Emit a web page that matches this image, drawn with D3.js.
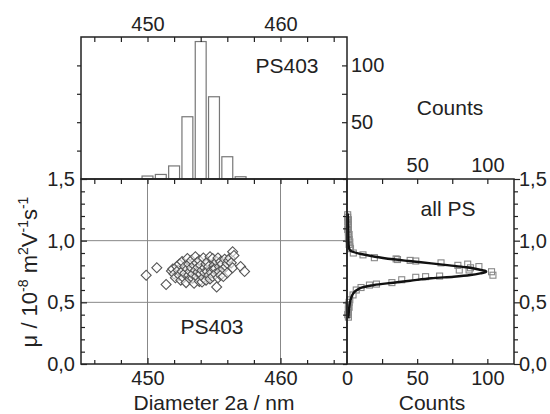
<!DOCTYPE html>
<html><head><meta charset="utf-8">
<script src="https://cdn.jsdelivr.net/npm/d3@7"></script>
<style>
body{margin:0;background:#fff;}
text{font-family:"Liberation Sans",Arial,sans-serif;fill:#222;}
</style></head>
<body><svg id="c" width="550" height="414"></svg>
<script>
// ---- data ----
const histDiam   = [450, 451, 452, 453, 454, 455, 456, 457];
const histCounts = [2.6, 4, 11.5, 54.8, 121, 72.4, 19.6, 2];

const scatterDiam = [449.9,450.7,451.4,451.8,451.9,452.0,452.1,452.2,452.3,452.4,452.4,452.5,452.6,452.6,452.7,452.8,452.8,452.9,453.0,453.0,453.1,453.1,453.2,453.2,453.3,453.3,453.4,453.4,453.5,453.5,453.6,453.6,453.7,453.7,453.8,453.8,453.9,453.9,454.0,454.0,454.1,454.1,454.2,454.2,454.3,454.3,454.4,454.4,454.5,454.5,454.6,454.6,454.7,454.7,454.8,454.8,454.9,454.9,455.0,455.0,455.1,455.1,455.2,455.2,455.3,455.3,455.4,455.4,455.5,455.5,455.6,455.7,455.7,455.8,455.9,456.0,456.0,456.1,456.2,456.3,456.4,456.4,456.5,457.0,457.3];
const scatterMu   = [0.72,0.78,0.645,0.755,0.77,0.73,0.70,0.79,0.76,0.72,0.81,0.68,0.83,0.75,0.70,0.735,0.79,0.66,0.855,0.77,0.72,0.81,0.69,0.75,0.78,0.84,0.695,0.73,0.80,0.655,0.76,0.87,0.71,0.82,0.745,0.785,0.67,0.84,0.73,0.80,0.76,0.665,0.86,0.70,0.78,0.74,0.81,0.68,0.75,0.83,0.72,0.79,0.87,0.69,0.76,0.74,0.855,0.71,0.80,0.77,0.775,0.73,0.83,0.625,0.70,0.86,0.79,0.75,0.83,0.72,0.81,0.71,0.77,0.85,0.79,0.815,0.74,0.84,0.86,0.82,0.91,0.78,0.88,0.79,0.75];

const sqMu    = [1.21,1.19,1.17,1.15,1.13,1.11,1.09,1.07,1.05,1.03,1.01,0.99,0.97,0.95,0.935,0.90,0.885,0.862,0.852,0.847,0.84,0.835,0.82,0.81,0.80,0.79,0.78,0.762,0.762,0.748,0.72,0.713,0.708,0.703,0.683,0.66,0.648,0.64,0.62,0.60,0.56,0.52,0.50,0.48,0.46,0.44,0.42,0.40,0.38];
const sqCount = [0.5,0.5,1,0.5,1,1,0.5,1,1.5,1,1.5,2,1.5,2,2.5,4.5,11.4,19.5,35,36,45,49,67,86,79,94,88,80,87,103,104,66,56,49,39,32,21,16,10,6.6,4.3,2,1.5,1,1.5,1,1,0.5,1];

const fitMu    = [1.22,1.10,1.00,0.95,0.925,0.91,0.892,0.87,0.849,0.835,0.816,0.80,0.784,0.766,0.752,0.745,0.735,0.722,0.708,0.695,0.675,0.659,0.64,0.613,0.573,0.52,0.45,0.37];
const fitCount = [0.6,0.8,1.0,1.3,2.0,4.0,10,20,33,44,60,73,85,94,99,99,95,88,76,60,45,33,19,9,4.5,2.5,1.5,1.0];

const diamMajor = [450, 460];
const diamMinor = [446,448,452,454,456,458,462,464];
const muMajor = [0, 0.5, 1.0, 1.5];
const muMinor = [0.1,0.2,0.3,0.4,0.6,0.7,0.8,0.9,1.1,1.2,1.3,1.4];
const countTicks = [25, 50, 75, 100];
const countLabels = [50, 100];
const rightCountTicks = [25, 50, 75, 100];
const rightTopLabels = [50, 100];
const rightBottomLabels = [0, 50, 100];

// ---- scales ----
const svg = d3.select("#c");
const x  = d3.scaleLinear().domain([445,465]).range([81,347]);
const y  = d3.scaleLinear().domain([0,1.5]).range([364,179]);
const yc = d3.scaleLinear().domain([0,125]).range([179,37]);
const xc = d3.scaleLinear().domain([0,119]).range([347,514]);
const comma = d => d3.format(".1f")(d).replace(".", ",");
const FS = 20;   // tick labels
const LS = 21;   // in-plot labels & titles

function drawAxis(gen, tx, ty) {
  const g = svg.append("g").attr("transform", `translate(${tx},${ty})`).call(gen);
  g.select(".domain").remove();
  g.selectAll("line").attr("stroke", "#222").attr("stroke-width", 1.2);
  g.selectAll("text").attr("font-size", FS).attr("fill", "#222")
    .style("font-family", '"Liberation Sans", Arial, sans-serif');
  return g;
}
const none = () => "";

// ---- grid in main panel ----
const grid = svg.append("g").attr("stroke", "#888").attr("stroke-width", 1);
grid.selectAll(".gx").data(diamMajor).join("line")
  .attr("x1", d => x(d)).attr("x2", d => x(d)).attr("y1", y(0)).attr("y2", y(1.5));
grid.selectAll(".gy").data([0.5, 1.0]).join("line")
  .attr("x1", x(445)).attr("x2", x(465)).attr("y1", d => y(d)).attr("y2", d => y(d));

// ---- top histogram bars ----
const bw = 0.82;
svg.append("g").selectAll("rect").data(histDiam.map((d,i)=>({d, c: histCounts[i]}))).join("rect")
  .attr("x", p => x(p.d - bw/2)).attr("width", p => x(p.d + bw/2) - x(p.d - bw/2))
  .attr("y", p => yc(p.c)).attr("height", p => yc(0) - yc(p.c))
  .attr("fill", "#fff").attr("stroke", "#777").attr("stroke-width", 1.2);

// ---- scatter diamonds ----
svg.append("g").selectAll("path").data(scatterDiam.map((d,i)=>[d, scatterMu[i]])).join("path")
  .attr("d", d3.symbol().type(d3.symbolSquare).size(50))
  .attr("transform", p => `translate(${x(p[0])},${y(p[1])}) rotate(45)`)
  .attr("fill", "#fff").attr("fill-opacity", 0.6).attr("stroke", "#555").attr("stroke-width", 1.1);

// ---- right panel squares and fit ----
svg.append("g").selectAll("rect").data(sqMu.map((m,i)=>[sqCount[i], m])).join("rect")
  .attr("x", p => xc(p[0]) - 3).attr("y", p => y(p[1]) - 3)
  .attr("width", 6).attr("height", 6)
  .attr("fill", "none").attr("stroke", "#888").attr("stroke-width", 1.1);

svg.append("path").datum(fitMu.map((m,i)=>[fitCount[i], m]))
  .attr("d", d3.line().x(p => xc(p[0])).y(p => y(p[1])).curve(d3.curveCatmullRom))
  .attr("fill", "none").attr("stroke", "#111").attr("stroke-width", 2.4);

// ---- frames ----
const frame = svg.append("g").attr("fill", "none").attr("stroke", "#222").attr("stroke-width", 1.5);
frame.append("rect").attr("x", x(445)).attr("y", y(1.5)).attr("width", x(465)-x(445)).attr("height", y(0)-y(1.5));
frame.append("rect").attr("x", x(445)).attr("y", yc(125)).attr("width", x(465)-x(445)).attr("height", yc(0)-yc(125));
frame.append("rect").attr("x", xc(0)).attr("y", y(1.5)).attr("width", xc(119)-xc(0)).attr("height", y(0)-y(1.5));

// ---- main panel axes ----
drawAxis(d3.axisBottom(x).tickValues(diamMajor).tickSize(-6).tickPadding(7).tickFormat(d3.format("d")), 0, y(0));
drawAxis(d3.axisBottom(x).tickValues(diamMinor).tickSize(-4).tickFormat(none), 0, y(0));
drawAxis(d3.axisTop(x).tickValues(diamMajor.concat(diamMinor)).tickSize(-5).tickFormat(none), 0, y(1.5));
drawAxis(d3.axisLeft(y).tickValues(muMajor).tickSize(-6).tickPadding(6).tickFormat(comma), x(445), 0);
drawAxis(d3.axisLeft(y).tickValues(muMinor).tickSize(-4).tickFormat(none), x(445), 0);
drawAxis(d3.axisRight(y).tickValues(muMajor.concat(muMinor)).tickSize(-4).tickFormat(none), x(465), 0);

// ---- top histogram axes ----
drawAxis(d3.axisTop(x).tickValues(diamMajor).tickSize(-5).tickPadding(6).tickFormat(d3.format("d")), 0, yc(125));
drawAxis(d3.axisTop(x).tickValues(diamMinor).tickSize(-5).tickFormat(none), 0, yc(125));
drawAxis(d3.axisRight(yc).tickValues(countTicks).tickSize(-4).tickFormat(none), x(445), 0);
drawAxis(d3.axisRight(yc).tickValues(countTicks).tickSize(-5).tickFormat(none), x(465), 0);
drawAxis(d3.axisRight(yc).tickValues(countLabels).tickSize(0).tickPadding(4).tickFormat(d3.format("d")), x(465), 0);

// ---- right panel axes ----
drawAxis(d3.axisTop(xc).tickValues(rightCountTicks).tickSize(-5).tickFormat(none), 0, y(1.5));
drawAxis(d3.axisTop(xc).tickValues(rightTopLabels).tickSize(0).tickPadding(7).tickFormat(d3.format("d")), 0, y(1.5));
drawAxis(d3.axisBottom(xc).tickValues(rightCountTicks).tickSize(-5).tickFormat(none), 0, y(0));
drawAxis(d3.axisBottom(xc).tickValues(rightBottomLabels).tickSize(0).tickPadding(7).tickFormat(d3.format("d")), 0, y(0));
drawAxis(d3.axisLeft(y).tickValues(muMajor).tickSize(-6).tickFormat(none), xc(119), 0);
drawAxis(d3.axisLeft(y).tickValues(muMinor).tickSize(-4).tickFormat(none), xc(119), 0);
drawAxis(d3.axisRight(y).tickValues(muMajor).tickSize(0).tickPadding(5).tickFormat(comma), xc(119), 0);

// ---- labels ----
function label(t, px, py, size, anchor) {
  return svg.append("text").attr("x", px).attr("y", py).attr("font-size", size)
    .attr("text-anchor", anchor || "middle").text(t);
}
label("PS403", 287, 73, LS);
label("PS403", 212, 334, LS);
label("all PS", 448, 216, LS);
label("Counts", 450, 115, LS);
label("Diameter 2a / nm", 214, 409.5, LS);
label("Counts", 432, 409.5, LS);

const yl = svg.append("text").attr("font-size", 22).attr("text-anchor", "middle")
  .attr("transform", "translate(37,272) rotate(-90)");
yl.append("tspan").text("\u03bc / 10");
yl.append("tspan").attr("font-size", 14).attr("dy", -9).text("-8");
yl.append("tspan").attr("dy", 9).text(" m");
yl.append("tspan").attr("font-size", 14).attr("dy", -9).text("2");
yl.append("tspan").attr("dy", 9).text("V");
yl.append("tspan").attr("font-size", 14).attr("dy", -9).text("-1");
yl.append("tspan").attr("dy", 9).text("s");
yl.append("tspan").attr("font-size", 14).attr("dy", -9).text("-1");
</script></body></html>
